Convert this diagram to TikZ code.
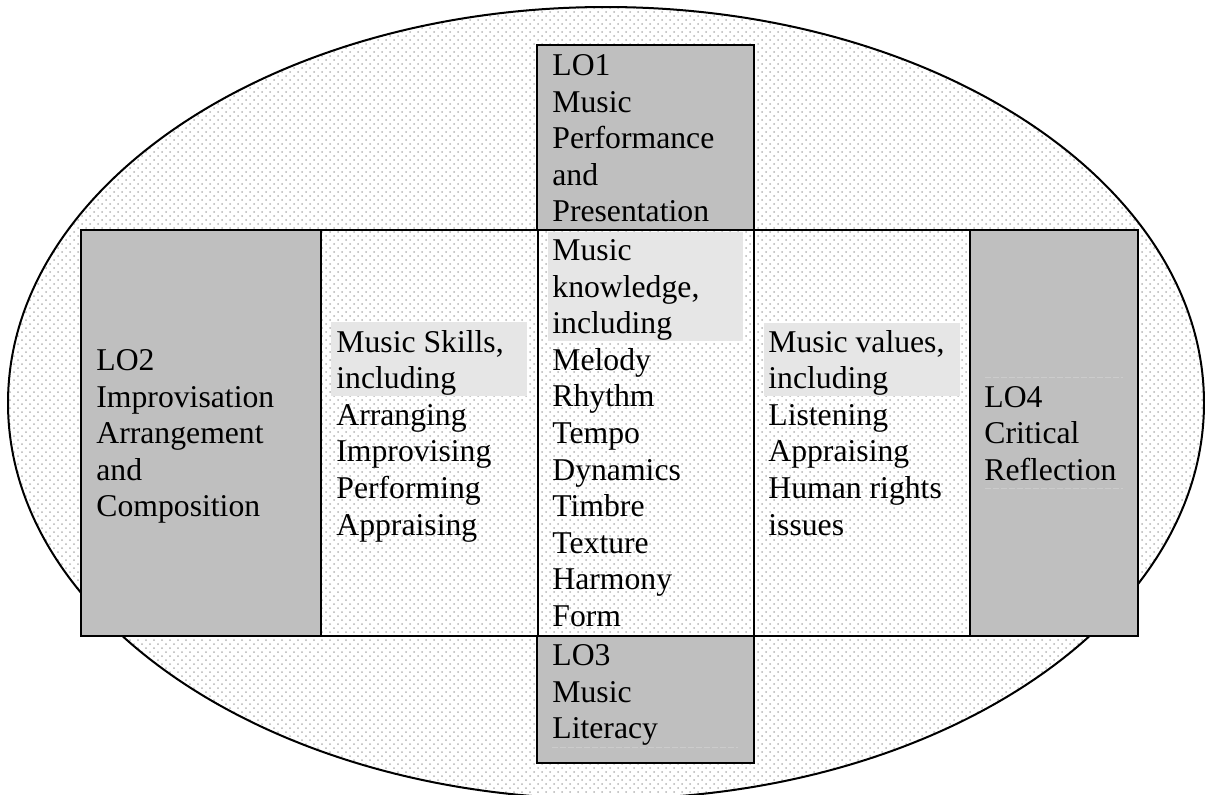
\documentclass[tikz,border=0pt]{standalone}
\usepackage{fontspec}
\setmainfont{Liberation Serif}
\usetikzlibrary{patterns}
\definecolor{boxgray}{HTML}{BFBFBF}
\definecolor{hilite}{HTML}{E6E6E6}
\definecolor{dotgray}{HTML}{B4B4B4}
\definecolor{faint}{HTML}{CCCCCC}
\pgfdeclarepatternformonly{mydots}{\pgfqpoint{-1pt}{-1pt}}{\pgfqpoint{5pt}{5pt}}{\pgfqpoint{4pt}{4pt}}{%
  \pgfpathcircle{\pgfqpoint{1pt}{1pt}}{0.5pt}%
  \pgfpathcircle{\pgfqpoint{3pt}{3pt}}{0.5pt}%
  \pgfusepath{fill}}
\tikzset{
  lbl/.style={anchor=north west, inner sep=0pt, align=left,
    font=\fontsize{15.85}{18.3}\selectfont},
  frame/.style={draw=black, line width=1pt},
  lofill/.style={fill=boxgray},
  hl/.style={fill=hilite},
  faintline/.style={draw=faint, line width=0.25pt, dash pattern=on 3pt off 1pt}
}
\begin{document}
\begin{tikzpicture}[x=0.5pt, y=-0.5pt]
\useasboundingbox (0,0) rectangle (1205,794);
% outer ellipse
\begin{scope}
\clip (0,0) rectangle (1205,794);
\path[pattern=mydots, pattern color=dotgray] (606,403) ellipse [x radius=598, y radius=396];
\draw[line width=1pt] (606,403) ellipse [x radius=598, y radius=396];
\end{scope}
% grey learning-outcome cells
\path[lofill] (81,230) rectangle (321,636);
\path[lofill] (970,230) rectangle (1138,636);
\path[lofill] (537,45) rectangle (754,230);
\path[lofill] (537,636) rectangle (754,763);
% highlights
\path[hl] (548,232) rectangle (743,341);
\path[hl] (331,322) rectangle (527,396);
\path[hl] (764,323) rectangle (960,396);
% faint frame artefacts
\draw[faintline] (985,377) -- (1123,377);
\draw[faintline] (985,488) -- (1123,488);
\draw[faintline] (552,747) -- (738,747);
% texts
\node[lbl] (lo1) at (552,49.4) {\strut LO1\\Music\\Performance\\and\\Presentation};
\node[lbl] (know) at (552,234.4) {\strut Music\\knowledge,\\including\\Melody\\Rhythm\\Tempo\\Dynamics\\Timbre\\Texture\\Harmony\\Form};
\node[lbl] (skills) at (336,326.1) {\strut Music Skills,\\including\\Arranging\\Improvising\\Performing\\Appraising};
\node[lbl] (values) at (768,326.1) {\strut Music values,\\including\\Listening\\Appraising\\Human rights\\issues};
\node[lbl] (lo4) at (984,381.1) {\strut LO4\\Critical\\Reflection};
\node[lbl] (lo2) at (96,344.4) {\strut LO2\\Improvisation\\Arrangement\\and\\Composition};
\node[lbl] (lo3) at (552,639.4) {\strut LO3\\Music\\Literacy};
% frames
\draw[frame] (81,230) rectangle (1138,636);
\draw[frame] (321,230) -- (321,636);
\draw[frame] (538,230) -- (538,636);
\draw[frame] (754,230) -- (754,636);
\draw[frame] (970,230) -- (970,636);
\draw[frame] (537,230) -- (537,45) -- (754,45) -- (754,230);
\draw[frame] (537,636) -- (537,763) -- (754,763) -- (754,636);
\end{tikzpicture}
\end{document}
